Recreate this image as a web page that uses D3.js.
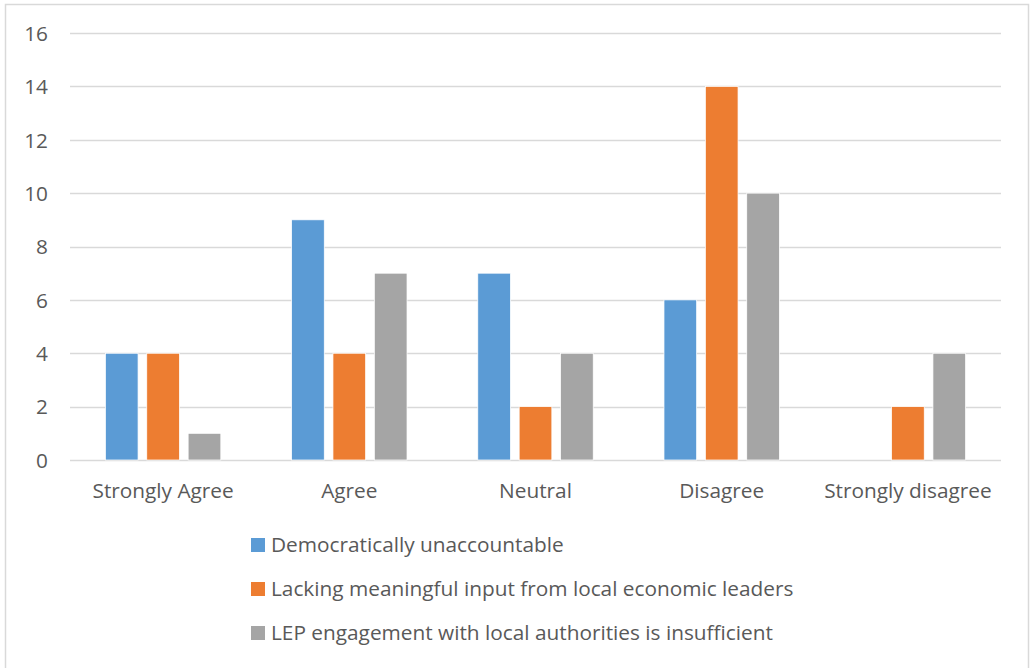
<!DOCTYPE html>
<html>
<head>
<meta charset="utf-8">
<script src="https://cdn.jsdelivr.net/npm/d3@7"></script>
<style>
  html, body { margin: 0; padding: 0; background: #fff; }
  svg { display: block; }
  text { font-family: "Open Sans", "Noto Sans", sans-serif; fill: #595959; }
</style>
</head>
<body>
<svg id="chart" width="1030" height="668"></svg>
<script>
// Survey responses per statement
const categories = ["Strongly Agree", "Agree", "Neutral", "Disagree", "Strongly disagree"];
const seriesNames = [
  "Democratically unaccountable",
  "Lacking meaningful input from local economic leaders",
  "LEP engagement with local authorities is insufficient"
];
const democraticallyUnaccountable = [4, 9, 7, 6, 0];
const lackingInput = [4, 4, 2, 14, 2];
const engagementInsufficient = [1, 7, 4, 10, 4];
const yTicks = [0, 2, 4, 6, 8, 10, 12, 14, 16];
const colors = ["#5b9bd5", "#ed7d31", "#a5a5a5"];

const seriesValues = [democraticallyUnaccountable, lackingInput, engagementInsufficient];
const fontSize = "20.8px";

const svg = d3.select("#chart");

// outer frame
svg.append("rect")
  .attr("x", 5.5).attr("y", 4.5)
  .attr("width", 1023).attr("height", 670)
  .attr("fill", "#fff").attr("stroke", "#d9d9d9").attr("stroke-width", 1.5);

const plot = { left: 70, right: 1001, top: 33, bottom: 460 };

const x0 = d3.scaleBand().domain(categories).range([plot.left, plot.right]).padding(0);
const groupWidth = x0.bandwidth() * 0.62;
const x1 = d3.scaleBand().domain(d3.range(seriesNames.length))
  .range([0, groupWidth]).paddingInner(0.21).paddingOuter(0);
const y = d3.scaleLinear().domain([0, 16]).range([plot.bottom, plot.top]);

// gridlines
svg.append("g")
  .selectAll("line").data(yTicks).join("line")
  .attr("x1", plot.left).attr("x2", plot.right)
  .attr("y1", d => Math.round(y(d)) + 0.5).attr("y2", d => Math.round(y(d)) + 0.5)
  .attr("stroke", "#d9d9d9").attr("stroke-width", 1.3);

// y axis labels
const yAxis = d3.axisLeft(y).tickValues(yTicks).tickSize(0).tickPadding(0);
const yg = svg.append("g").attr("transform", `translate(${48},0)`).call(yAxis);
yg.select(".domain").remove();
yg.selectAll("text").style("font-size", fontSize).attr("fill", "#595959").attr("dy", "0.35em");

// x axis labels
const xAxis = d3.axisBottom(x0).tickSize(0).tickPadding(0);
const xg = svg.append("g").attr("transform", `translate(0,${plot.bottom + 23})`).call(xAxis);
xg.select(".domain").remove();
xg.selectAll("text").style("font-size", fontSize).attr("fill", "#595959").attr("dy", "0.7em");

// bars
const groups = svg.append("g").selectAll("g").data(categories).join("g")
  .attr("transform", c => `translate(${x0(c) + (x0.bandwidth() - groupWidth) / 2},0)`);

groups.selectAll("rect")
  .data((c, ci) => seriesValues.map((vals, si) => ({ si, v: vals[ci] })))
  .join("rect")
  .filter(d => d.v > 0)
  .attr("x", d => x1(d.si))
  .attr("y", d => y(d.v))
  .attr("width", x1.bandwidth())
  .attr("height", d => y(0) - y(d.v))
  .attr("fill", d => colors[d.si])
  .attr("stroke", "#fff").attr("stroke-width", 0.75);

// legend
const legend = svg.append("g").selectAll("g").data(seriesNames).join("g")
  .attr("transform", (d, i) => `translate(251,${545 + i * 44})`);
legend.append("rect")
  .attr("x", 0).attr("y", -7).attr("width", 14).attr("height", 14)
  .attr("fill", (d, i) => colors[i]);
legend.append("text")
  .attr("x", 20).attr("y", 0).attr("dy", "0.35em")
  .style("font-size", fontSize)
  .text(d => d);
</script>
</body>
</html>
